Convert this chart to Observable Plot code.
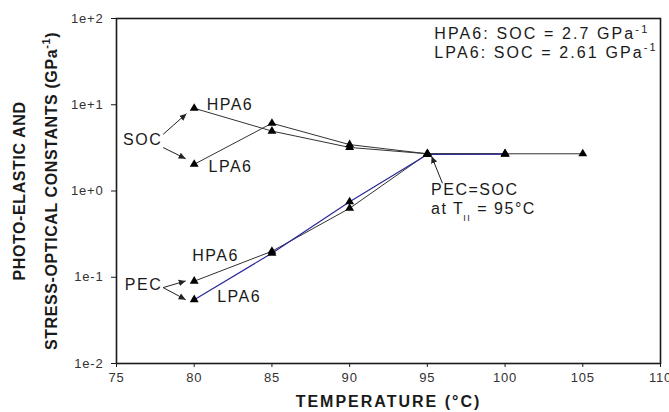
<!DOCTYPE html>
<html>
<head>
<meta charset="utf-8">
<script src="https://cdn.jsdelivr.net/npm/d3@7"></script>
<script src="https://cdn.jsdelivr.net/npm/@observablehq/plot@0.6"></script>
<style>
  html, body { margin: 0; padding: 0; background: #fff; }
  g[aria-description="xtitle"] text { letter-spacing: 2px; }
  g[aria-description="ytitle"] text { letter-spacing: 0.6px; }
  g[aria-description="lbl"] text { letter-spacing: 1.5px; }
  g[aria-description="boxnote"] text { letter-spacing: 2.1px; }
  g[aria-label="x-axis tick label"] text, g[aria-label="y-axis tick label"] text { letter-spacing: 0.8px; }
</style>
</head>
<body>
<div id="chart"></div>
<script>
// ---- data ----
const socHpa6T = [80, 85, 90, 95, 100, 105];
const socHpa6V = [9.1, 4.95, 3.2, 2.7, 2.7, 2.7];
const socLpa6T = [80, 85, 90, 95, 100];
const socLpa6V = [2.04, 6.1, 3.45, 2.7, 2.7];
const pecHpa6T = [80, 85, 90, 95];
const pecHpa6V = [0.09, 0.2, 0.63, 2.7];
const pecLpa6T = [80, 85, 90, 95, 100];
const pecLpa6V = [0.055, 0.19, 0.75, 2.65, 2.68];

const xTicks = [75, 80, 85, 90, 95, 100, 105, 110];
const yTicks = [0.01, 0.1, 1, 10, 100];
const yTickLabels = ["1e-2", "1e-1", "1e+0", "1e+1", "1e+2"];

// annotation labels (text, x, y, anchor)
const lblText = ["SOC", "HPA6", "LPA6", "PEC", "HPA6", "LPA6", "PEC=SOC", "at T_II = 95°C"];
const lblX    = [77.94, 80.8, 80.92, 77.94, 79.87, 81.48, 95.24, 95.24];
const lblY    = [3.87, 10.0, 1.9, 0.0807, 0.175, 0.06, 1.04, 0.625];
const lblAnchor = ["end", "start", "start", "end", "start", "start", "start", "start"];

// arrows (from -> to)
const arX1 = [78.0, 78.0, 78.0, 78.0, 95.97];
const arY1 = [4.54, 3.19, 0.0759, 0.0759, 1.23];
const arX2 = [79.5, 79.45, 79.45, 79.45, 95.27];
const arY2 = [7.89, 2.37, 0.0906, 0.055, 2.53];

const boxText = ["HPA6: SOC = 2.7 GPa^-1", "LPA6: SOC = 2.61 GPa^-1"];
const boxX = [95.45, 95.45];
const boxY = [65.6, 39.8];

const xTitle = "TEMPERATURE (°C)";
const yTitle1 = "PHOTO-ELASTIC AND";
const yTitle2 = "STRESS-OPTICAL CONSTANTS (GPa^-1)";

const toRows = (T, V) => T.map((t, i) => ({t, v: V[i]}));
const socH = toRows(socHpa6T, socHpa6V);
const socL = toRows(socLpa6T, socLpa6V);
const pecH = toRows(pecHpa6T, pecHpa6V);
const pecL = toRows(pecLpa6T, pecLpa6V);
const labels = lblText.map((s, i) => ({s, x: lblX[i], y: lblY[i], a: lblAnchor[i]}));
const arrows = arX1.map((x1, i) => ({x1, y1: arY1[i], x2: arX2[i], y2: arY2[i]}));
const boxRows = boxText.map((s, i) => ({s, x: boxX[i], y: boxY[i]}));

const ink = "#1a1a1a";
const blue = "#27279a";

const filledHead = (color, context) => {
  const doc = (context && context.document) || document;
  const ns = "http://www.w3.org/2000/svg";
  const m = doc.createElementNS(ns, "marker");
  m.setAttribute("viewBox", "-7 -5 14 10");
  m.setAttribute("markerWidth", "14");
  m.setAttribute("markerHeight", "10");
  m.setAttribute("markerUnits", "userSpaceOnUse");
  m.setAttribute("orient", "auto");
  const p = doc.createElementNS(ns, "path");
  p.setAttribute("d", "M-7,-3.2L0,0L-7,3.2Z");
  p.setAttribute("fill", color);
  p.setAttribute("stroke", "none");
  m.appendChild(p);
  return m;
};

const tri = {symbol: "triangle", r: 3.3, fill: "#000", stroke: "none"};

const chart = Plot.plot({
  width: 669,
  height: 412,
  marginLeft: 116,
  marginRight: 9,
  marginTop: 18,
  marginBottom: 49,
  style: {fontFamily: "'Liberation Sans', Arial, sans-serif", background: "#fff", color: ink},
  x: {domain: [75, 110], label: null},
  y: {type: "log", domain: [0.01, 100], label: null},
  marks: [
    Plot.axisX({ticks: xTicks, tickSize: 4, tickPadding: 5, fontSize: 13, label: null, stroke: ink, color: "#333"}),
    Plot.axisY({ticks: yTicks, tickFormat: d => yTickLabels[yTicks.findIndex(t => Math.abs(t - d) < d * 1e-6)], tickSize: 5, tickPadding: 8, fontSize: 13, label: null, stroke: ink, color: "#333"}),
    Plot.frame({stroke: ink, strokeWidth: 1.6}),
    Plot.line(socH, {x: "t", y: "v", stroke: "#333", strokeWidth: 1}),
    Plot.line(socL, {x: "t", y: "v", stroke: "#333", strokeWidth: 1}),
    Plot.line(pecH, {x: "t", y: "v", stroke: "#333", strokeWidth: 1}),
    Plot.line(pecL, {x: "t", y: "v", stroke: blue, strokeWidth: 1.2}),
    Plot.dot(socH, {x: "t", y: "v", ...tri}),
    Plot.dot(socL, {x: "t", y: "v", ...tri}),
    Plot.dot(pecH, {x: "t", y: "v", ...tri}),
    Plot.dot(pecL, {x: "t", y: "v", ...tri}),
    Plot.link(arrows, {x1: "x1", y1: "y1", x2: "x2", y2: "y2", stroke: "#222", strokeWidth: 1, markerEnd: filledHead}),
    Plot.text(labels, {filter: d => d.a === "end", x: "x", y: "y", text: "s", textAnchor: "end", fontSize: 16, fill: ink, ariaDescription: "lbl"}),
    Plot.text(labels, {filter: d => d.a === "start", x: "x", y: "y", text: "s", textAnchor: "start", fontSize: 16, fill: ink, ariaDescription: "lbl"}),
    Plot.text(boxRows, {x: "x", y: "y", text: "s", textAnchor: "start", fontSize: 16, fill: ink, ariaDescription: "boxnote"}),
    Plot.text([xTitle], {frameAnchor: "bottom", dy: 38, lineAnchor: "middle", text: d => d, fontSize: 16, fontWeight: "bold", fill: ink, ariaDescription: "xtitle"}),
    Plot.text([yTitle1], {frameAnchor: "left", dx: -97, rotate: -90, textAnchor: "middle", lineAnchor: "middle", text: d => d, fontSize: 16, fontWeight: "bold", fill: ink, ariaDescription: "ytitle"}),
    Plot.text([yTitle2], {frameAnchor: "left", dx: -65, rotate: -90, textAnchor: "middle", lineAnchor: "middle", text: d => d, fontSize: 16, fontWeight: "bold", fill: ink, ariaDescription: "ytitle"})
  ]
});

// turn "^-1" into a superscript and "_II" into a subscript, keeping real text
const ns = "http://www.w3.org/2000/svg";
chart.querySelectorAll("text").forEach(t => {
  const s = t.textContent;
  if (!s.includes("^-1") && !s.includes("_II")) return;
  const fs = parseFloat(getComputedStyle(t).fontSize) || parseFloat(t.closest("[font-size]")?.getAttribute("font-size")) || 16;
  const parts = s.split(/(\^-1|_II)/);
  t.textContent = "";
  let shift = 0;
  parts.forEach(p => {
    if (!p) return;
    const sp = document.createElementNS(ns, "tspan");
    if (p === "^-1") {
      sp.textContent = "-1";
      sp.setAttribute("font-size", Math.round(fs * 0.68));
      sp.setAttribute("dy", -fs * 0.42 - shift);
      shift = -fs * 0.42;
    } else if (p === "_II") {
      sp.textContent = "II";
      sp.setAttribute("font-size", Math.round(fs * 0.55));
      sp.setAttribute("dx", -1);
      sp.setAttribute("dy", fs * 0.45 - shift);
      shift = fs * 0.45;
    } else {
      sp.textContent = p;
      if (shift) sp.setAttribute("dy", -shift);
      shift = 0;
    }
    t.appendChild(sp);
  });
});
document.getElementById("chart").appendChild(chart);
</script>
</body>
</html>
